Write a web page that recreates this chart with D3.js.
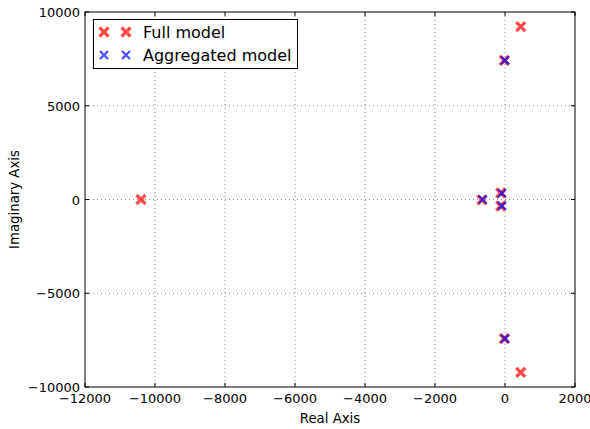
<!DOCTYPE html>
<html lang="en">
<head>
  <meta charset="UTF-8" />
  <title>Pole map</title>
  <style>
    body { margin: 0; background: #ffffff; font-family: "DejaVu Sans", sans-serif; }
    svg { display: block; }
    .grid line { stroke: #8a8a8a; stroke-dasharray: 1,3; stroke-width: 1; }
    .tick-label { font-size: 13px; fill: #000; }
  </style>
  <script src="https://d3js.org/d3.v7.min.js"></script>
</head>
<body>
  <svg id="canvas" width="590" height="429"></svg>
  <script>
    // poles: [real, imaginary]
    const fullPoles = [
      [-10400, 0], [450, 9220], [450, -9220],
      [-20, 7420], [-20, -7420],
      [-660, -20], [-120, 350], [-120, -350]
    ];
    const aggPoles = [
      [0, 7420], [0, -7420],
      [-640, 0], [-90, 330], [-90, -340]
    ];
    const xTicks = [-12000, -10000, -8000, -6000, -4000, -2000, 0, 2000];
    const yTicks = [-10000, -5000, 0, 5000, 10000];

    const svg = d3.select("#canvas");
    const pLeft = 85, pRight = 575, pTop = 12, pBottom = 387;
    const x = d3.scaleLinear().domain([-12000, 2000]).range([pLeft, pRight]);
    const y = d3.scaleLinear().domain([-10000, 10000]).range([pBottom, pTop]);
    const fmt = d => d < 0 ? "\u2212" + Math.abs(d) : String(d);

    // grid
    const grid = svg.append("g").attr("class", "grid");
    xTicks.slice(1, -1).forEach(t => {
      grid.append("line").attr("x1", x(t)).attr("x2", x(t)).attr("y1", pTop).attr("y2", pBottom);
    });
    yTicks.slice(1, -1).forEach(t => {
      grid.append("line").attr("x1", pLeft).attr("x2", pRight).attr("y1", y(t)).attr("y2", y(t));
    });

    // axes with inward ticks on all sides
    const tl = 4;
    const ax = svg.append("g");
    xTicks.forEach(t => {
      ax.append("line").attr("x1", x(t)).attr("x2", x(t)).attr("y1", pBottom).attr("y2", pBottom - tl).attr("stroke", "#000");
      ax.append("line").attr("x1", x(t)).attr("x2", x(t)).attr("y1", pTop).attr("y2", pTop + tl).attr("stroke", "#000");
      ax.append("text").attr("class", "tick-label").attr("x", x(t)).attr("y", pBottom + 16)
        .attr("text-anchor", "middle").text(fmt(t));
    });
    yTicks.forEach(t => {
      ax.append("line").attr("x1", pLeft).attr("x2", pLeft + tl).attr("y1", y(t)).attr("y2", y(t)).attr("stroke", "#000");
      ax.append("line").attr("x1", pRight).attr("x2", pRight - tl).attr("y1", y(t)).attr("y2", y(t)).attr("stroke", "#000");
      ax.append("text").attr("class", "tick-label").attr("x", pLeft - 5).attr("y", y(t) + 5)
        .attr("text-anchor", "end").text(fmt(t));
    });

    // markers
    function drawX(g, cx, cy, r, w, color) {
      g.append("path")
        .attr("d", `M${cx - r},${cy - r}L${cx + r},${cy + r}M${cx - r},${cy + r}L${cx + r},${cy - r}`)
        .attr("stroke", color).attr("stroke-width", w).attr("stroke-linecap", "butt")
        .attr("fill", "none");
    }
    const red = "#ff0000", blue = "#0000ff";
    const marks = svg.append("g");
    const fullG = marks.append("g").attr("opacity", 0.7);
    fullPoles.forEach(p => drawX(fullG.append("g"), x(p[0]), y(p[1]), 4.5, 3.4, red));
    const aggG = marks.append("g").attr("opacity", 0.7);
    aggPoles.forEach(p => drawX(aggG.append("g"), x(p[0]), y(p[1]), 4, 2.2, blue));

    // frame
    svg.append("rect").attr("x", pLeft).attr("y", pTop).attr("width", pRight - pLeft).attr("height", pBottom - pTop)
      .attr("fill", "none").attr("stroke", "#000").attr("stroke-width", 1);

    // axis labels
    svg.append("text").attr("x", (pLeft + pRight) / 2).attr("y", 423).attr("text-anchor", "middle")
      .attr("font-size", 13.3).text("Real Axis");
    svg.append("text").attr("transform", `translate(19,${(pTop + pBottom) / 2}) rotate(-90)`)
      .attr("text-anchor", "middle").attr("font-size", 13.3).text("Imaginary Axis");

    // legend
    const lg = svg.append("g");
    lg.append("rect").attr("x", 93.5).attr("y", 19.5).attr("width", 204).attr("height", 49)
      .attr("fill", "#fff").attr("stroke", "#000").attr("stroke-width", 1);
    const items = [
      { label: "Full model", color: red, r: 4.5, w: 3.4 },
      { label: "Aggregated model", color: blue, r: 4, w: 2.2 }
    ];
    items.forEach((it, i) => {
      const cy = 32 + i * 23;
      const g = lg.append("g").attr("opacity", 0.7);
      drawX(g, 104, cy, it.r, it.w, it.color);
      drawX(g, 126, cy, it.r, it.w, it.color);
      lg.append("text").attr("x", 143).attr("y", cy + 5.5).attr("font-size", 16).text(it.label);
    });
  </script>
</body>
</html>
